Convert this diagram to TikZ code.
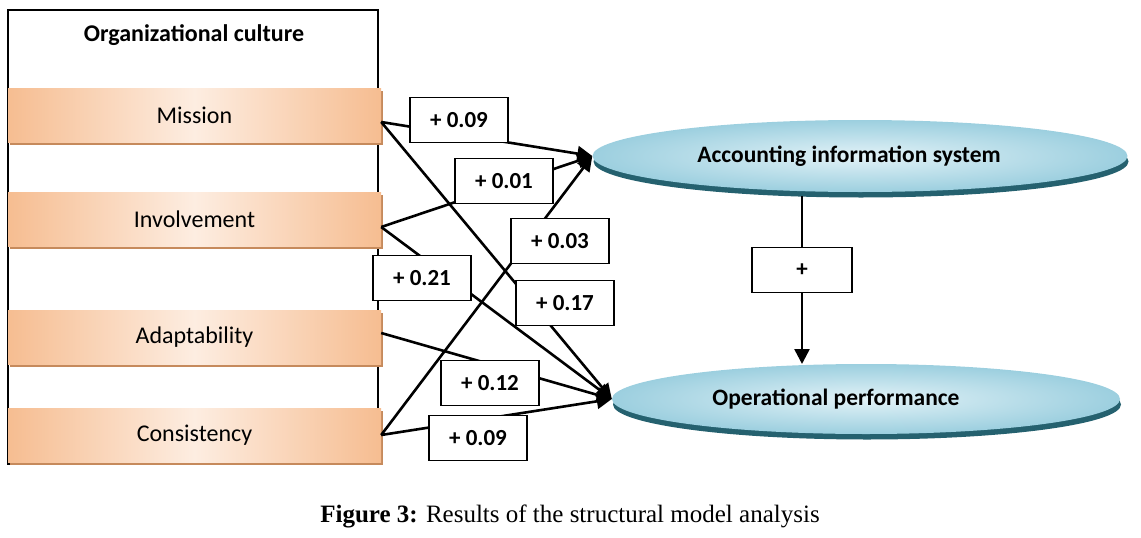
\documentclass[tikz,border=0pt]{standalone}
\usepackage{fontspec}
\setmainfont{Carlito}
\newfontfamily\capfont{Liberation Serif}
\usepackage{tikz}
\usetikzlibrary{positioning,arrows.meta,shapes.geometric,shadows}

\definecolor{orgdark}{HTML}{F6BD91}
\definecolor{orglight}{HTML}{FDEDE1}
\definecolor{orgshadow}{HTML}{C68A5C}
\definecolor{elllight}{HTML}{E2F2F7}
\definecolor{elldark}{HTML}{9CCFDF}
\definecolor{ellshadow}{HTML}{25616F}

\begin{document}
\begin{tikzpicture}[x=1pt, y=-1pt, font=\fontsize{24}{28}\selectfont,
  dimbox/.style={minimum width=373pt, minimum height=54pt, inner sep=0pt,
    left color=orgdark, right color=orgdark, middle color=orglight,
    drop shadow={shadow xshift=1.5pt, shadow yshift=-2.5pt, fill=orgshadow, opacity=1}},
  construct/.style={ellipse, inner sep=0pt, font=\fontsize{23.5}{28}\selectfont\bfseries,
    inner color=elllight, outer color=elldark,
    drop shadow={shadow xshift=1pt, shadow yshift=-5.5pt, fill=ellshadow, opacity=1}},
  coef/.style={draw, fill=white, line width=1.4pt, minimum width=98pt, minimum height=45pt,
    inner sep=0pt, font=\fontsize{23}{27}\selectfont\bfseries},
  path/.style={line width=2.6pt, -{Triangle[length=15pt,width=15pt]}}]
  \useasboundingbox (0,0) rectangle (1141,538);
  % Organizational culture frame
  \draw[line width=1.6pt] (8,10) rectangle (378,464);
  \node[font=\fontsize{24}{28}\selectfont\bfseries] (title) at (194,35) {Organizational culture};
  % Dimensions
  \node[dimbox] (mis) at (194.5,115) {Mission};
  \node[dimbox] (inv) at (194.5,219) {Involvement};
  \node[dimbox] (ada) at (194.5,337) {Adaptability};
  \node[dimbox] (con) at (194.5,435) {Consistency};
  % Constructs
  \node[construct, minimum width=535pt, minimum height=72pt] (ais) at (860,156) {Accounting information system\kern22pt};
  \node[construct, minimum width=508pt, minimum height=70pt] (op) at (866,399) {Operational performance\kern60pt};
  % Paths
  \draw[path] ([yshift=-7pt]mis.east) -- (ais.west);
  \draw[path] ([yshift=-7pt]mis.east) -- (op.west);
  \draw[path] ([yshift=-8pt]inv.east) -- (ais.west);
  \draw[path] ([yshift=-8pt]inv.east) -- (op.west);
  \draw[path] ([yshift=4pt]ada.east) -- (op.west);
  \draw[path] (con.east) -- (ais.west);
  \draw[path] (con.east) -- (op.west);
  \draw[path] (802,196) -- (802,364);
  % Coefficients
  \node[coef] (c1) at (459,120) {+ 0.09};
  \node[coef] (c2) at (504,181) {+ 0.01};
  \node[coef] (c3) at (560,241) {+ 0.03};
  \node[coef] (c4) at (422,278) {+ 0.21};
  \node[coef] (c5) at (565,303) {+ 0.17};
  \node[coef] (c6) at (490,383) {+ 0.12};
  \node[coef] (c7) at (478,438) {+ 0.09};
  \node[coef, minimum width=100pt] (c8) at (802,270) {+};
  % Caption
  \node[font=\capfont\fontsize{25}{29}\selectfont] (cap) at (570,516) {\textbf{Figure 3:} Results of the structural model analysis};
\end{tikzpicture}
\end{document}
